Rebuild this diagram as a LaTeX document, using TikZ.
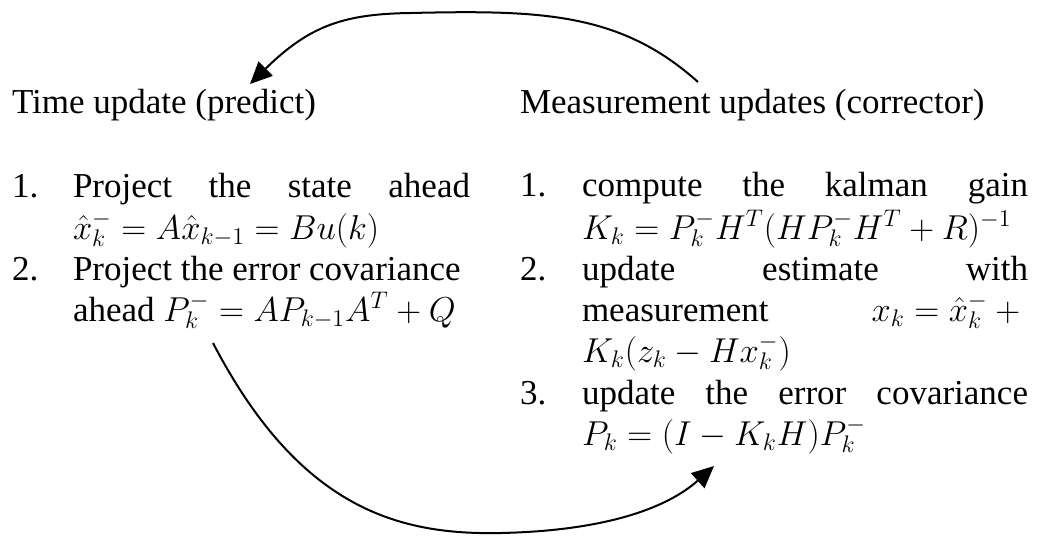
\documentclass[tikz,border=0pt]{standalone}
\usepackage{fontspec}
\setmainfont{Liberation Serif}
\usetikzlibrary{arrows.meta}
\begin{document}
\begin{tikzpicture}[x=0.5pt,y=-0.5pt,
  txt/.style={anchor=base west,inner sep=0pt,outer sep=0pt,font=\fontsize{17.5}{20}\selectfont},
  conn/.style={line width=1pt,-{Triangle[length=11pt,width=10pt]}}]
\useasboundingbox (0,0) rectangle (1043,538);
% left column
\node[txt] (ltitle) at (12,113) {Time update (predict)};
\node[txt] (l1num) at (12,197) {1.};
\node[txt] (l1) at (73,197) {\hbox to 198.5pt{Project\hfill the\hfill state\hfill ahead}};
\node[txt] (l1b) at (73,239) {$\hat{x}_k^- = A\hat{x}_{k-1} = Bu(k)$};
\node[txt] (l2num) at (12,280) {2.};
\node[txt] (l2) at (73,280) {Project the error covariance};
\node[txt] (l2b) at (73,321) {ahead $P_k^- = AP_{k-1}A^T + Q$};
% right column
\node[txt] (rtitle) at (520,113) {Measurement updates (corrector)};
\node[txt] (r1num) at (520,196) {1.};
\node[txt] (r1) at (582,196) {\hbox to 223pt{compute\hfill the\hfill kalman\hfill gain}};
\node[txt] (r1b) at (582,239) {$K_k = P_k^- H^T (HP_k^- H^T + R)^{-1}$};
\node[txt] (r2num) at (520,280) {2.};
\node[txt] (r2) at (582,280) {\hbox to 223pt{update\hfill estimate\hfill with}};
\node[txt] (r2b) at (582,321) {\hbox to 223pt{measurement\hfill $x_k = \hat{x}_k^- +{}$}};
\node[txt] (r2c) at (582,362) {$K_k(z_k - Hx_k^-)$};
\node[txt] (r3num) at (520,404) {3.};
\node[txt] (r3) at (582,404) {\hbox to 223pt{update\hfill the\hfill error\hfill covariance}};
\node[txt] (r3b) at (582,445) {$P_k = (I - K_kH)P_k^-$};
% connectors
\coordinate (topstart) at (698,82);
\coordinate (topend) at (250,84);
\coordinate (botstart) at (213,343);
\coordinate (botend) at (714,466);
\draw[conn] (topstart) .. controls (620,12) and (540,10) .. (410,13)
  .. controls (345,14) and (310,25) .. (topend);
\draw[conn] (botstart) .. controls (300,510) and (400,535) .. (500,533)
  .. controls (600,531) and (665,510) .. (botend);
\end{tikzpicture}
\end{document}
